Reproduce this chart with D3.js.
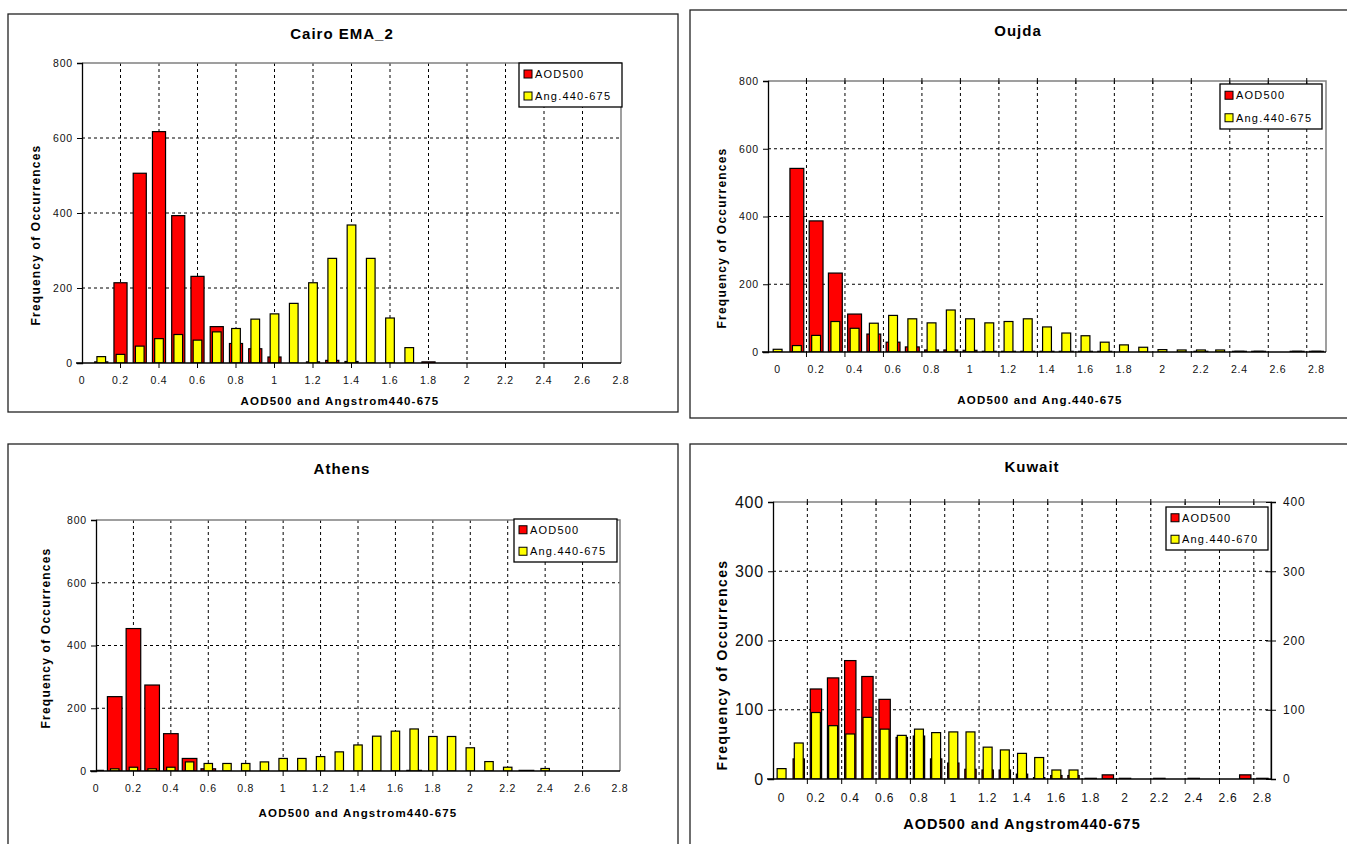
<!DOCTYPE html>
<html lang="en">
<head>
  <meta charset="UTF-8">
  <title>AOD500 and Angstrom frequency histograms</title>
  <style>
    body { margin: 0; background: #fff; }
    svg { display: block; }
    text { font-family: "Liberation Sans", Arial, sans-serif; fill: #000; }
    .title { font-weight: bold; font-size: 15px; letter-spacing: 1px; }
    .axis-title { font-weight: bold; font-size: 11.5px; letter-spacing: 1.2px; }
    .tick-label { font-size: 10.5px; letter-spacing: 0.8px; fill: #111; }
    .legend-text { font-size: 11px; letter-spacing: 1.2px; }
  </style>
</head>
<body>
  <div id="chart"></div>

  <script src="https://d3js.org/d3.v7.min.js"></script>
  <script>
    // bin centres (0, 0.1 ... 2.8)
    const cats = [0, 0.1, 0.2, 0.3, 0.4, 0.5, 0.6, 0.7, 0.8, 0.9, 1.0, 1.1, 1.2, 1.3, 1.4,
                  1.5, 1.6, 1.7, 1.8, 1.9, 2.0, 2.1, 2.2, 2.3, 2.4, 2.5, 2.6, 2.7, 2.8];
    const xTickLabels = [0, 0.2, 0.4, 0.6, 0.8, 1, 1.2, 1.4, 1.6, 1.8, 2, 2.2, 2.4, 2.6, 2.8];

    const cairoAOD = [0, 3, 214, 506, 617, 393, 231, 97, 52, 38, 16, 0, 3, 7, 4,
                      0, 0, 0, 3, 0, 0, 0, 0, 0, 0, 0, 0, 0, 0];
    const cairoAng = [0, 17, 23, 45, 65, 76, 61, 83, 92, 117, 131, 159, 214, 279, 368,
                      279, 120, 41, 0, 0, 0, 0, 0, 0, 0, 0, 0, 0, 0];

    const oujdaAOD = [0, 542, 387, 233, 112, 53, 29, 15, 6, 6, 5, 2, 2, 2, 2,
                      2, 2, 2, 0, 0, 0, 0, 2, 0, 2, 2, 0, 2, 2];
    const oujdaAng = [8, 19, 49, 90, 70, 85, 108, 98, 86, 124, 98, 86, 90, 98, 74,
                      56, 48, 29, 21, 14, 7, 6, 6, 6, 2, 2, 0, 2, 2];

    const athensAOD = [2, 237, 454, 274, 119, 40, 7, 0, 0, 0, 0, 0, 0, 0, 0,
                       0, 0, 2, 0, 0, 0, 0, 0, 2, 0, 0, 0, 0, 0];
    const athensAng = [0, 7, 12, 7, 12, 29, 24, 24, 24, 29, 40, 40, 46, 61, 83,
                       111, 127, 134, 110, 110, 74, 30, 12, 0, 8, 0, 0, 0, 0];

    const kuwaitAOD = [0, 29, 130, 146, 171, 148, 115, 60, 62, 29, 23, 14, 13, 13, 7,
                       2, 5, 5, 1, 6, 1, 0, 1, 0, 1, 0, 0, 6, 1];
    const kuwaitAng = [15, 52, 96, 77, 65, 89, 72, 63, 72, 67, 68, 68, 46, 42, 37,
                       31, 13, 13, 0, 0, 0, 0, 0, 0, 0, 0, 0, 0, 0];

    const yTicks800 = [0, 200, 400, 600, 800];
    const yTicks400 = [0, 100, 200, 300, 400];

    const svg = d3.select("#chart").append("svg")
      .attr("width", 1347)
      .attr("height", 844);

    // layout for each panel
    const panels = [
      {
        title: "Cairo EMA_2", box: [8, 14, 678, 412], titleXY: [342, 39],
        plot: [82, 63, 621, 363], xDomain: [0, 2.8], grid: "value",
        yTicks: yTicks800, aod: cairoAOD, ang: cairoAng,
        redW: 0.68, yelW: 0.45,
        xTitle: "AOD500 and Angstrom440-675", xTitleXY: [340, 405], yTitleXY: [36, 235],
        legend: [519, 63, 622, 107], legendLabels: ["AOD500", "Ang.440-675"]
      },
      {
        title: "Oujda", box: [690, 10, 1352, 418], titleXY: [1018, 36],
        plot: [768, 81, 1326, 352], xDomain: [-0.05, 2.85], grid: "category",
        yTicks: yTicks800, aod: oujdaAOD, ang: oujdaAng,
        redW: 0.72, yelW: 0.46, topTicks: true,
        xTitle: "AOD500 and Ang.440-675", xTitleXY: [1040, 404], yTitleXY: [722, 238],
        legend: [1220, 84, 1322, 129], legendLabels: ["AOD500", "Ang.440-675"]
      },
      {
        title: "Athens", box: [8, 444, 678, 852], titleXY: [342, 474],
        plot: [96, 520, 620, 771], xDomain: [0, 2.8], grid: "value",
        yTicks: yTicks800, aod: athensAOD, ang: athensAng,
        redW: 0.78, yelW: 0.45,
        xTitle: "AOD500 and Angstrom440-675", xTitleXY: [358, 817], yTitleXY: [46, 638],
        legend: [514, 519, 617, 562], legendLabels: ["AOD500", "Ang.440-675"]
      },
      {
        title: "Kuwait", box: [690, 444, 1352, 852], titleXY: [1032, 472],
        plot: [773, 502, 1271, 779], xDomain: [-0.05, 2.85], grid: "category",
        yTicks: yTicks400, aod: kuwaitAOD, ang: kuwaitAng,
        redW: 0.66, yelW: 0.52, topTicks: true, rightAxis: true, big: true,
        xTitle: "AOD500 and Angstrom440-675", xTitleXY: [1022, 829], yTitleXY: [722, 665],
        legend: [1166, 507, 1268, 550], legendLabels: ["AOD500", "Ang.440-670"]
      }
    ];

    panels.forEach(drawPanel);

    function drawPanel(p, idx) {
      const g = svg.append("g");
      const [px0, py0, px1, py1] = p.plot;

      // outer frame
      g.append("rect")
        .attr("x", p.box[0]).attr("y", p.box[1])
        .attr("width", p.box[2] - p.box[0]).attr("height", p.box[3] - p.box[1])
        .attr("fill", "#fff").attr("stroke", "#222").attr("stroke-width", 1.3);

      g.append("text").attr("class", "title")
        .attr("x", p.titleXY[0]).attr("y", p.titleXY[1])
        .attr("text-anchor", "middle")
        .text(p.title);

      const x = d3.scaleLinear().domain(p.xDomain).range([px0, px1]);
      const y = d3.scaleLinear().domain([0, d3.max(p.yTicks)]).range([py1, py0]);
      const step = x(0.1) - x(0);

      // grid positions: on the labels for value axes, between bins for category axes
      let gridVals;
      if (p.grid === "value") gridVals = xTickLabels.slice(1, -1);
      else gridVals = d3.range(0, 14).map(k => 0.15 + 0.2 * k);

      // horizontal grid
      g.append("g").selectAll("line")
        .data(p.yTicks.slice(1, -1))
        .join("line")
        .attr("x1", px0).attr("x2", px1)
        .attr("y1", d => y(d)).attr("y2", d => y(d))
        .attr("stroke", "#000").attr("stroke-dasharray", "3,3");

      // vertical grid
      g.append("g").selectAll("line")
        .data(gridVals)
        .join("line")
        .attr("x1", d => x(d)).attr("x2", d => x(d))
        .attr("y1", py0).attr("y2", py1)
        .attr("stroke", "#000").attr("stroke-dasharray", "3,3");

      // plot border (top/right) in grey
      g.append("path")
        .attr("d", `M${px0},${py0}H${px1}V${py1}`)
        .attr("fill", "none").attr("stroke", "#808080").attr("stroke-width", 1.5);

      const clipId = "clip" + idx;
      g.append("clipPath").attr("id", clipId)
        .append("rect").attr("x", px0).attr("y", py0 - 2)
        .attr("width", px1 - px0).attr("height", py1 - py0 + 2);

      const bars = g.append("g").attr("clip-path", `url(#${clipId})`);

      const series = [
        { vals: p.aod, color: "#ff0000", w: p.redW },
        { vals: p.ang, color: "#ffff00", w: p.yelW }
      ];
      series.forEach(s => {
        bars.append("g").selectAll("rect")
          .data(cats.map((c, i) => ({ c, v: s.vals[i] })).filter(d => d.v > 0))
          .join("rect")
          .attr("x", d => x(d.c) - s.w * step / 2)
          .attr("width", s.w * step)
          .attr("y", d => y(d.v))
          .attr("height", d => Math.max(1.5, y(0) - y(d.v)))
          .attr("fill", s.color)
          .attr("stroke", "#000")
          .attr("stroke-width", 1.2);
      });

      // left axis
      const yAxis = d3.axisLeft(y).tickValues(p.yTicks).tickSize(5).tickFormat(d3.format("d"));
      const ya = g.append("g").attr("transform", `translate(${px0},0)`).call(yAxis);
      ya.select(".domain").attr("stroke-width", 1.3);
      ya.selectAll("text").attr("class", "tick-label")
        .style("font-size", p.big ? "16px" : "10.5px")
        .attr("x", -9);

      // right axis (Kuwait)
      if (p.rightAxis) {
        const ra = g.append("g").attr("transform", `translate(${px1},0)`)
          .call(d3.axisRight(y).tickValues(p.yTicks).tickSize(5).tickFormat(d3.format("d")));
        ra.select(".domain").attr("stroke-width", 1.3);
        ra.selectAll("line").attr("x1", -5);
        ra.selectAll("text").attr("class", "tick-label")
          .style("font-size", "12px").attr("x", 12);
      }

      // bottom axis: ticks at grid positions, labels at bin values
      const xa = g.append("g").attr("transform", `translate(0,${py1})`);
      xa.append("line").attr("x1", px0 - 6).attr("x2", px1)
        .attr("stroke", "#000").attr("stroke-width", 1.5);
      xa.selectAll(".tk").data(gridVals).join("line")
        .attr("class", "tk")
        .attr("x1", d => x(d)).attr("x2", d => x(d))
        .attr("y1", 0).attr("y2", 5)
        .attr("stroke", "#000");
      xa.selectAll("text").data(xTickLabels).join("text")
        .attr("class", "tick-label")
        .style("font-size", p.big ? "12px" : "10.5px")
        .attr("x", d => x(d))
        .attr("y", p.big ? 23 : 21)
        .attr("text-anchor", "middle")
        .text(d => d);

      // top ticks
      if (p.topTicks) {
        g.append("g").selectAll("line").data(gridVals).join("line")
          .attr("x1", d => x(d)).attr("x2", d => x(d))
          .attr("y1", py0 - 3).attr("y2", py0 + 3)
          .attr("stroke", "#000");
      }

      // axis titles
      g.append("text").attr("class", "axis-title")
        .style("font-size", p.big ? "14.5px" : null)
        .style("letter-spacing", p.big ? "1px" : null)
        .attr("x", p.xTitleXY[0])
        .attr("y", p.xTitleXY[1])
        .attr("text-anchor", "middle")
        .text(p.xTitle);

      g.append("text").attr("class", "axis-title")
        .style("font-size", p.big ? "14px" : "12px")
        .style("letter-spacing", p.big ? "1.4px" : null)
        .attr("transform", `translate(${p.yTitleXY[0]},${p.yTitleXY[1]}) rotate(-90)`)
        .attr("text-anchor", "middle")
        .attr("dy", "0.35em")
        .text("Frequency of Occurrences");

      // legend
      const [lx0, ly0, lx1, ly1] = p.legend;
      const lg = g.append("g");
      lg.append("rect")
        .attr("x", lx0).attr("y", ly0)
        .attr("width", lx1 - lx0).attr("height", ly1 - ly0)
        .attr("fill", "#fff").attr("stroke", "#000").attr("stroke-width", 1.3);
      const rowH = (ly1 - ly0) / 2;
      lg.selectAll(".item").data(p.legendLabels).join("g")
        .attr("class", "item")
        .attr("transform", (d, i) => `translate(${lx0 + 5},${ly0 + rowH * (i + 0.5)})`)
        .each(function (d, i) {
          const it = d3.select(this);
          it.append("rect").attr("x", 0).attr("y", -4).attr("width", 8).attr("height", 8)
            .attr("fill", i === 0 ? "#ff0000" : "#ffff00").attr("stroke", "#000");
          it.append("text").attr("class", "legend-text")
            .attr("x", 11).attr("dy", "0.35em").text(d);
        });
    }
  </script>
</body>
</html>
